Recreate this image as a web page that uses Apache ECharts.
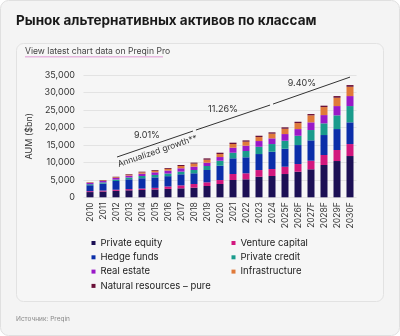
<!DOCTYPE html>
<html><head><meta charset="utf-8">
<script src="https://cdn.jsdelivr.net/npm/echarts@6/dist/echarts.min.js"></script>
<style>html,body{margin:0;padding:0;background:#fff}#c{width:400px;height:336px}</style>
</head><body><div id="c"></div>
<script>
const years = ['2010','2011','2012','2013','2014','2015','2016','2017','2018','2019','2020','2021','2022','2023','2024','2025F','2026F','2027F','2028F','2029F','2030F'];
const privateEquity  = [1500,1650,1850,2000,2100,2250,2400,2570,2750,3230,3800,4950,5150,5890,6090,6660,7320,8010,9240,10380,11810];
const ventureCapital = [250,280,320,350,400,450,700,850,1060,1060,1140,1720,1720,1910,2000,2090,2200,2460,2860,3150,3430];
const hedgeFunds     = [1700,2000,2500,2800,2950,3000,2950,3160,3060,3520,4090,4490,4580,4580,4950,5150,5430,5830,5720,6000,6210];
const privateCredit  = [300,350,400,520,650,700,750,770,950,1140,1430,1600,1800,2090,2200,2290,2660,2950,3340,3920,4660];
const realEstate     = [350,400,450,550,650,750,850,950,950,950,1060,1430,1520,1630,1630,1910,1910,2200,2370,2660,2860];
const infrastructure = [120,160,220,280,380,450,500,660,860,860,860,1060,1140,1140,1340,1520,1720,2000,2290,2380,2660];
const naturalRes     = [90,110,140,160,200,220,240,290,290,380,380,380,380,380,380,400,380,380,400,480,490];
const yTicks = [0,5000,10000,15000,20000,25000,30000,35000];
// growth annotation arrows: [categoryIndex, value]
const growthSegments = [[[2.08,11530],[7.92,18960]],[[8.15,19250],[13.85,26400]],[[14.08,26690],[20,34400]]];
const growthLabels = [['9.01%',4.38,17820],['11.26%',10.23,25250],['9.40%',16.3,32700]];

const names = ['Private equity','Venture capital','Hedge funds','Private credit','Real estate','Infrastructure','Natural resources – pure'];
const values = [privateEquity,ventureCapital,hedgeFunds,privateCredit,realEstate,infrastructure,naturalRes];
const colors = ['#1c1055','#d2177e','#0b2ea9','#1a9b8c','#9a19c8','#e07a3a','#6a1038'];
const FONT = 'Inter';

const chart = echarts.init(document.getElementById('c'), null, {renderer:'canvas'});
const series = names.map((n,i)=>({
  name:n, type:'bar', stack:'a', data:values[i], barWidth:7,
  itemStyle:{color:colors[i]}, emphasis:{disabled:true}
}));
series.push({
  type:'line', xAxisIndex:1, yAxisIndex:0, data:[], silent:true,
  markLine:{
    silent:true, symbol:['none','arrow'], symbolSize:[0,7],
    lineStyle:{color:'#333',width:1,type:'solid'},
    data: growthSegments.map((s,k)=>[
      {coord:s[0], label:{show:k===0, formatter:'Annualized growth**', position:'insideMiddleBottom', color:'#333', fontSize:8.5, fontFamily:FONT, distance:3}},
      {coord:s[1]}
    ])
  },
  markPoint:{
    silent:true, symbol:'circle', symbolSize:0,
    label:{show:true, color:'#333', fontSize:9, fontFamily:FONT, position:'inside'},
    data: growthLabels.map(g=>({coord:[g[1],g[2]], value:g[0], label:{formatter:g[0]}}))
  }
});

chart.setOption({
  animation:false,
  textStyle:{fontFamily:FONT},
  graphic:[
    {type:'rect', shape:{x:0.5,y:0.5,width:399,height:335,r:8}, style:{fill:'#f4f4f4',stroke:'#e0e0e0'}, z:-10},
    {type:'rect', shape:{x:16.5,y:43.5,width:367,height:258,r:7}, style:{fill:'#f6f6f6',stroke:'#e2e2e2'}, z:-9},
    {type:'text', left:16, top:14, style:{text:'Рынок альтернативных активов по классам', font:'bold 13.5px Inter', fill:'#1a1a1a'}},
    {type:'text', left:25, top:47, style:{text:'View latest chart data on Preqin Pro', font:'8.6px Inter', fill:'#444'}},
    {type:'rect', shape:{x:25,y:56.5,width:138,height:0.8}, style:{fill:'#d77ac8'}},
    {type:'text', left:16, top:316, style:{text:'Источник: Preqin', font:'6.5px Inter', fill:'#888'}}
  ],
  grid:{left:83.5, right:43.5, top:75, bottom:138.7, containLabel:false},
  legend:[
    {orient:'vertical', left:91.5, top:237, padding:0, itemWidth:4, itemHeight:4, itemGap:2.3, icon:'rect',
     data:[names[0],names[2],names[4],names[6]], textStyle:{fontSize:9.5, color:'#222', lineHeight:12, fontFamily:FONT}},
    {orient:'vertical', left:231.5, top:237, padding:0, itemWidth:4, itemHeight:4, itemGap:2.3, icon:'rect',
     data:[names[1],names[3],names[5]], textStyle:{fontSize:9.5, color:'#222', lineHeight:12, fontFamily:FONT}}
  ],
  xAxis:[
    {type:'category', data:years, axisLine:{show:false}, axisTick:{show:false},
     axisLabel:{rotate:90, fontSize:8.5, color:'#333', margin:5, interval:0, fontFamily:FONT}},
    {type:'value', min:-0.5, max:20.5, show:false}
  ],
  yAxis:{type:'value', min:0, max:35000, interval:5000,
    name:'AUM ($bn)', nameLocation:'middle', nameGap:46, nameTextStyle:{fontSize:9, color:'#333', fontFamily:FONT},
    axisLabel:{fontSize:9, color:'#333', margin:8.5, fontFamily:FONT, formatter:v=>yTicks.includes(v)?v.toLocaleString('en-US'):''},
    splitLine:{lineStyle:{color:'#e3e3e3',width:1}}, axisLine:{show:false}, axisTick:{show:false}},
  series:series
});
</script></body></html>
